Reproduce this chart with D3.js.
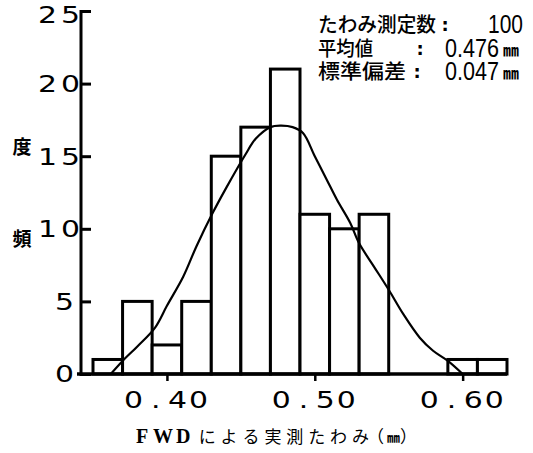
<!DOCTYPE html>
<html><head><meta charset="utf-8">
<script src="https://cdn.jsdelivr.net/npm/d3@7"></script>
<style>
html,body{margin:0;padding:0;background:#fff;}
svg{display:block;}
</style></head>
<body>
<svg id="c" width="533" height="453"></svg>
<script>
// ---- data ----
const binStart = [0.35,0.37,0.39,0.41,0.43,0.45,0.47,0.49,0.51,0.53,0.55,0.57,0.59,0.61];
const binWidth = 0.02;
const counts   = [1,5,2,5,15,17,21,11,10,11,0,0,1,1];
const curveX   = [0.362,0.370,0.380,0.392,0.400,0.411,0.420,0.431,0.440,0.453,0.460,0.470,0.477,0.485,0.492,0.500,0.508,0.515,0.524,0.530,0.540,0.550,0.560,0.571,0.580,0.590,0.600];
const curveY   = [0,0.9,1.9,3.2,4.7,6.7,8.8,11.1,12.8,15.1,16.2,17.0,17.1,17.0,16.6,15.0,13.4,12.0,10.4,9.0,7.4,5.8,4.1,2.5,1.6,0.9,0];
const yTicks   = [0,5,10,15,20,25];
const xTicks   = [0.40,0.50,0.60];
const xTickLabels = ["0.40","0.50","0.60"];
const statLabels = ["たわみ測定数","平均値","標準偏差"];
const statValues = ["100","0.476","0.047"];
const statUnits  = ["","㎜","㎜"];
const yTitle = ["度","頻"];
const xTitle = ["FWD","による実測たわみ（","㎜","）"];

// ---- scales ----
const svg = d3.select("#c");
const x = d3.scaleLinear().domain([0.35,0.63]).range([93,507]);
const y = d3.scaleLinear().domain([0,25]).range([374,11]);
const K = "#000";

// bars
svg.append("g").selectAll("rect").data(binStart.map((s,i)=>({s,c:counts[i]})).filter(d=>d.c>0))
  .join("rect")
  .attr("x",d=>x(d.s)).attr("width",d=>x(d.s+binWidth)-x(d.s))
  .attr("y",d=>y(d.c)).attr("height",d=>y(0)-y(d.c))
  .attr("fill","#fff").attr("stroke",K).attr("stroke-width",3);

// curve
const line = d3.line().x(d=>x(d[0])).y(d=>y(d[1])).curve(d3.curveCatmullRom.alpha(0.5));
svg.append("path").datum(curveX.map((v,i)=>[v,curveY[i]]))
  .attr("d",line).attr("fill","none").attr("stroke",K).attr("stroke-width",2.2);

// y axis
const yAxis = d3.axisRight(y).tickValues(yTicks).tickSize(10).tickFormat("");
const gy = svg.append("g").attr("transform","translate(81,0)").call(yAxis);
gy.select(".domain").remove();
gy.selectAll(".tick line").attr("stroke",K).attr("stroke-width",3);
svg.append("line").attr("x1",81).attr("x2",81).attr("y1",y(25)-1).attr("y2",y(0)+2)
  .attr("stroke",K).attr("stroke-width",3);

// x axis
const xAxis = d3.axisBottom(x).tickValues(xTicks).tickSize(7).tickFormat("");
const gx = svg.append("g").attr("transform",`translate(0,${y(0)})`).call(xAxis);
gx.select(".domain").remove();
gx.selectAll(".tick line").attr("stroke",K).attr("stroke-width",2.5);
svg.append("line").attr("x1",77).attr("x2",x(0.63)).attr("y1",y(0)).attr("y2",y(0))
  .attr("stroke",K).attr("stroke-width",3.5);

// wide digit text helper: glyphs placed at given offsets, stretched horizontally
const SX = 1.3;
function wideText(g, str, left, base, offsets, size){
  return g.append("text")
    .attr("transform",`translate(${left},${base}) scale(${SX},1)`)
    .attr("font-family","DejaVu Sans").attr("font-size",size).attr("fill",K)
    .attr("x", offsets.map(o=>(o/SX).toFixed(2)).join(" "))
    .attr("y",0).text(str);
}

// y tick labels
const gyl = svg.append("g");
yTicks.forEach(v=>{
  const s = String(v);
  const base = y(v) + (v===25 ? 12 : 8.4);
  if(s.length===2) wideText(gyl, s, 38, base, [0,23], 23);
  else wideText(gyl, s, 55, base, [0], 23);
});

// x tick labels
const gxl = svg.append("g");
xTicks.forEach((v,i)=>{
  wideText(gxl, xTickLabels[i], x(v)-43, 408, [0,27,44,65], 23);
});

// y title
svg.append("g").selectAll("text").data(yTitle).join("text")
  .attr("font-family","Noto Sans CJK JP").attr("font-weight","bold").attr("font-size",19)
  .attr("text-anchor","middle").attr("x",22).attr("y",(d,i)=>i===0?154:246).attr("fill",K)
  .text(d=>d);

// x title (per-character positions)
const tg = svg.append("g").attr("fill",K);
const adv = 21.9;
tg.append("text").attr("font-family","Liberation Serif").attr("font-weight","bold").attr("font-size",20)
  .attr("y",443).attr("x",[136,153,176].join(" ")).text(xTitle[0]);
tg.append("text").attr("font-family","Noto Sans CJK JP").attr("font-size",17)
  .attr("y",443).attr("x",d3.range(8).map(i=>(133+adv*(3+i)).toFixed(1)).join(" ")+" 367")
  .text(xTitle[1]);
tg.append("text").attr("font-family","Noto Sans CJK JP").attr("font-weight","bold").attr("font-size",13)
  .attr("y",442).attr("x",387).text(xTitle[2]);
tg.append("text").attr("font-family","Noto Sans CJK JP").attr("font-size",17)
  .attr("y",443).attr("x",400).text(xTitle[3]);

// stats block
const baseY = [32,56,79];
const lblLen = [118,55,88];
const colonX = [445,420,417];
const valX = [488,445,445];
const valLen = [35,54,54];
const st = svg.append("g").attr("fill",K);
statLabels.forEach((s,i)=>{
  st.append("text").attr("x",318).attr("y",baseY[i]).attr("font-family","Noto Sans CJK JP")
    .attr("font-size",20).attr("font-weight","500")
    .attr("textLength",lblLen[i]).attr("lengthAdjust","spacingAndGlyphs").text(s);
  st.append("text").attr("x",colonX[i]).attr("y",baseY[i]-1).attr("text-anchor","middle")
    .attr("font-family","DejaVu Sans").attr("font-weight","bold")
    .attr("font-size",18).text(":");
  st.append("text").attr("x",valX[i]).attr("y",baseY[i]+1).attr("font-family","Liberation Sans Narrow, Liberation Sans")
    .attr("font-size",25).attr("textLength",valLen[i]).attr("lengthAdjust","spacingAndGlyphs").text(statValues[i]);
  if(statUnits[i]) st.append("text").attr("x",503).attr("y",baseY[i]).attr("font-family","Noto Sans CJK JP")
    .attr("font-size",16).attr("font-weight","bold").text(statUnits[i]);
});
</script>
</body></html>
